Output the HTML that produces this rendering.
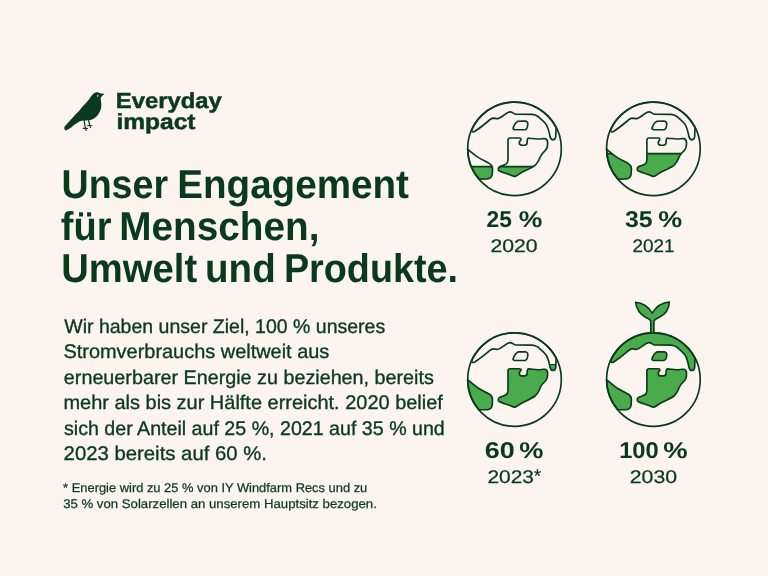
<!DOCTYPE html>
<html lang="de">
<head>
<meta charset="utf-8">
<title>Everyday impact</title>
<style>
html,body{margin:0;padding:0;background:#FCF4EE;}
body{width:768px;height:576px;overflow:hidden;}
svg{display:block;will-change:transform;}
text{font-family:"Liberation Sans",sans-serif;fill:#0A3A1C;text-rendering:geometricPrecision;}
.b{font-weight:bold;}
</style>
</head>
<body>
<svg width="768" height="576" viewBox="0 0 768 576">
<defs><path id="north" d="M -43.0,-18.4 C -42.5,-17.2 -41.2,-16.8 -40.0,-17.3 C -36,-19.8 -30,-24.5 -25.5,-28.3 C -24,-29.6 -23,-30.7 -21.5,-30.7 C -19.5,-30.6 -18,-30 -16.5,-30.2 C -15,-30.5 -13,-31.8 -11,-33.3 C -8.5,-35.2 -6.5,-36.8 -4.5,-36.9 C -2.5,-37 -1,-35.2 1,-34.5 L 17.5,-34.4 C 20,-34.3 21.8,-33.6 23.5,-32.3 C 26.5,-29.8 30,-27 31.8,-24.2 C 33.8,-21 34.8,-16 35.6,-12 C 36.1,-10 37,-9 38.5,-9 C 40.5,-9 41.2,-10.5 41.3,-12.5 L 41.6,-21.3 A 46.8 46.8 0 0 0 -43.0,-18.4 Z"/>
<path id="island" d="M -1.4,-20.8 C -0.6,-23.3 1.4,-26.5 3.5,-27.6 L 10.8,-27.7 C 12.8,-27.6 13.5,-26 13.3,-24.3 C 13.1,-21.8 12.8,-19.5 10.5,-19.1 L 0.6,-19.0 C -0.9,-19.1 -1.7,-19.8 -1.4,-20.8 Z"/>
<path id="africa" d="M -6.5,-8.8 C -6.5,-10.1 -5.5,-10.8 -4.2,-10.8 L 4.8,-10.8 C 6.2,-10.8 6.8,-10.0 6.3,-8.9 C 5.6,-8.0 4.6,-7.3 4.8,-5.7 C 5.0,-4.2 6.2,-3.6 7.5,-3.6 L 10,-3.6 C 11.6,-3.6 12.5,-4.6 12.6,-6.1 L 12.8,-9.1 C 12.9,-10.2 13.8,-10.7 15,-10.6 C 18,-10.3 21,-9.7 24,-9.8 C 26.5,-9.9 28.5,-10.4 30.5,-10.2 C 32.2,-9.9 33,-8.3 33.1,-6.5 C 33.2,-3.5 32.8,-0.5 31.2,1.2 C 29,3.2 27,5 25.8,8 C 24.5,11.5 23,14.5 20.5,16.5 C 17.5,18.8 13,20.8 8,23.2 C 4.5,25 2,27.4 0.5,27.6 C -1,27.8 -3,26.6 -5,25.8 C -9,24.4 -13,23.3 -15,22.3 C -16.5,21.5 -16.6,19.3 -15.2,18.2 C -13.5,17 -10.5,16.5 -8.5,15.3 C -7,14.4 -6.5,13 -6.5,11 Z"/>
<path id="samerica" d="M -46.8,0.3 C -43,3.5 -39.5,6.5 -36,8.8 C -32,11.2 -28,13 -25,14.8 C -23,16 -22,17.5 -22,20 L -22.2,25 C -22.4,28 -24.5,30 -27.5,30.2 L -35.4,30.3 A 46.8 46.8 0 0 1 -46.8,0.3 Z"/>
<g id="land"><use href="#north"/><use href="#island"/><use href="#africa"/><use href="#samerica"/></g>
<clipPath id="landclip"><use href="#north"/><use href="#island"/><use href="#africa"/><use href="#samerica"/></clipPath>
<clipPath id="lv0"><rect x="-60" y="17.8" width="120" height="42.2"/></clipPath>
<clipPath id="lv1"><rect x="-60" y="4.8" width="120" height="55.2"/></clipPath>
<clipPath id="lv2"><rect x="-60" y="-15.0" width="120" height="75.0"/></clipPath></defs>
<path fill="#0A3A1C" d="M104.30,94.00 C104.00,93.70 101.83,93.67 101.00,93.50 C100.17,93.33 99.87,93.20 99.30,93.00 C98.73,92.80 98.22,92.40 97.60,92.30 C96.98,92.20 96.28,92.20 95.60,92.40 C94.92,92.60 94.10,93.02 93.50,93.50 C92.90,93.98 92.67,94.43 92.00,95.30 C91.33,96.17 90.35,97.60 89.50,98.70 C88.65,99.80 87.90,100.75 86.90,101.90 C85.90,103.05 84.58,104.38 83.50,105.60 C82.42,106.82 81.57,107.87 80.40,109.20 C79.23,110.53 77.87,112.10 76.50,113.60 C75.13,115.10 73.53,116.77 72.20,118.20 C70.87,119.63 69.62,120.97 68.50,122.20 C67.38,123.43 66.20,124.72 65.50,125.60 C64.80,126.48 64.45,126.83 64.30,127.50 C64.15,128.17 64.28,129.12 64.60,129.60 C64.92,130.08 65.63,130.40 66.20,130.40 C66.77,130.40 67.33,129.98 68.00,129.60 C68.67,129.22 69.47,128.63 70.20,128.10 C70.93,127.57 71.60,127.03 72.40,126.40 C73.20,125.77 74.08,124.97 75.00,124.30 C75.92,123.63 76.93,122.93 77.90,122.40 C78.87,121.87 79.83,121.40 80.80,121.10 C81.77,120.80 82.75,120.72 83.70,120.60 C84.65,120.48 85.58,120.48 86.50,120.40 C87.42,120.32 88.32,120.27 89.20,120.10 C90.08,119.93 90.95,119.72 91.80,119.40 C92.65,119.08 93.52,118.68 94.30,118.20 C95.08,117.72 95.83,117.17 96.50,116.50 C97.17,115.83 97.75,115.02 98.30,114.20 C98.85,113.38 99.38,112.47 99.80,111.60 C100.22,110.73 100.55,109.87 100.80,109.00 C101.05,108.13 101.22,107.27 101.30,106.40 C101.38,105.53 101.35,104.65 101.30,103.80 C101.25,102.95 101.10,102.07 101.00,101.30 C100.90,100.53 100.72,99.82 100.70,99.20 C100.68,98.58 100.73,98.07 100.90,97.60 C101.07,97.13 101.38,96.78 101.70,96.40 C102.02,96.02 102.37,95.70 102.80,95.30 C103.23,94.90 104.60,94.30 104.30,94.00 Z"/>
<circle cx="97.7" cy="95.9" r="0.8" fill="#CFE3D0"/>
<g stroke="#0A3A1C" stroke-width="1.2" fill="none" stroke-linecap="round">
<path d="M84.1,120 L85.3,128 M83.2,128.4 L87.3,128.4 M85.3,128 L86.1,130.4"/>
<path d="M88.5,120 L89.8,125.5 M87.7,125.7 L91.8,125.5 M89.8,125.5 L90.6,127.6"/>
</g>
<text class="b" x="115.87" y="108.4" font-size="21.9" textLength="105.82" lengthAdjust="spacingAndGlyphs" stroke="#0A3A1C" stroke-width="0.5">Everyday</text>
<text class="b" x="116.40" y="129.3" font-size="21.9" textLength="79.10" lengthAdjust="spacingAndGlyphs" stroke="#0A3A1C" stroke-width="0.5">impact</text>
<text class="b" x="61.49" y="197.9" font-size="40.2" textLength="106.59" lengthAdjust="spacingAndGlyphs">Unser</text>
<text class="b" x="177.23" y="197.9" font-size="40.2" textLength="231.72" lengthAdjust="spacingAndGlyphs">Engagement</text>
<text class="b" x="60.76" y="239.9" font-size="40.2" textLength="50.68" lengthAdjust="spacingAndGlyphs">für</text>
<text class="b" x="119.23" y="239.9" font-size="40.2" textLength="200.20" lengthAdjust="spacingAndGlyphs">Menschen,</text>
<text class="b" x="61.20" y="281.9" font-size="40.2" textLength="135.99" lengthAdjust="spacingAndGlyphs">Umwelt</text>
<text class="b" x="205.00" y="281.9" font-size="40.2" textLength="70.70" lengthAdjust="spacingAndGlyphs">und</text>
<text class="b" x="283.95" y="281.9" font-size="40.2" textLength="174.09" lengthAdjust="spacingAndGlyphs">Produkte.</text>
<text x="64.28" y="332.6" font-size="19.7" textLength="320.95" lengthAdjust="spacingAndGlyphs" stroke="#0A3A1C" stroke-width="0.35">Wir haben unser Ziel, 100 % unseres</text>
<text x="63.47" y="358.1" font-size="19.7" textLength="265.85" lengthAdjust="spacingAndGlyphs" stroke="#0A3A1C" stroke-width="0.35">Stromverbrauchs weltweit aus</text>
<text x="63.85" y="383.8" font-size="19.7" textLength="370.01" lengthAdjust="spacingAndGlyphs" stroke="#0A3A1C" stroke-width="0.35">erneuerbarer Energie zu beziehen, bereits</text>
<text x="63.46" y="409.3" font-size="19.7" textLength="379.43" lengthAdjust="spacingAndGlyphs" stroke="#0A3A1C" stroke-width="0.35">mehr als bis zur Hälfte erreicht. 2020 belief</text>
<text x="63.99" y="434.8" font-size="19.7" textLength="380.80" lengthAdjust="spacingAndGlyphs" stroke="#0A3A1C" stroke-width="0.35">sich der Anteil auf 25 %, 2021 auf 35 % und</text>
<text x="63.60" y="460.3" font-size="19.7" textLength="203.36" lengthAdjust="spacingAndGlyphs" stroke="#0A3A1C" stroke-width="0.35">2023 bereits auf 60 %.</text>
<text x="63.13" y="491.9" font-size="12.6" textLength="304.15" lengthAdjust="spacingAndGlyphs" stroke="#0A3A1C" stroke-width="0.25">* Energie wird zu 25 % von IY Windfarm Recs und zu</text>
<text x="63.17" y="508.1" font-size="12.6" textLength="313.68" lengthAdjust="spacingAndGlyphs" stroke="#0A3A1C" stroke-width="0.25">35 % von Solarzellen an unserem Hauptsitz bezogen.</text>
<text class="b" x="486.48" y="227.1" font-size="22.8" textLength="25.33" lengthAdjust="spacingAndGlyphs">25</text>
<text class="b" x="518.68" y="227.1" font-size="22.8" textLength="23.58" lengthAdjust="spacingAndGlyphs">%</text>
<text class="b" x="625.06" y="227.1" font-size="22.8" textLength="27.66" lengthAdjust="spacingAndGlyphs">35</text>
<text class="b" x="658.15" y="227.1" font-size="22.8" textLength="23.93" lengthAdjust="spacingAndGlyphs">%</text>
<text class="b" x="484.89" y="457.9" font-size="22.8" textLength="29.95" lengthAdjust="spacingAndGlyphs">60</text>
<text class="b" x="519.37" y="457.9" font-size="22.8" textLength="24.21" lengthAdjust="spacingAndGlyphs">%</text>
<text class="b" x="619.21" y="457.9" font-size="22.8" textLength="39.50" lengthAdjust="spacingAndGlyphs">100</text>
<text class="b" x="663.36" y="457.9" font-size="22.8" textLength="24.38" lengthAdjust="spacingAndGlyphs">%</text>
<text x="490.41" y="252.4" font-size="18.2" textLength="47.23" lengthAdjust="spacingAndGlyphs" stroke="#0A3A1C" stroke-width="0.25">2020</text>
<text x="632.45" y="252.4" font-size="18.2" textLength="41.97" lengthAdjust="spacingAndGlyphs" stroke="#0A3A1C" stroke-width="0.25">2021</text>
<text x="487.45" y="482.9" font-size="18.2" textLength="46.58" lengthAdjust="spacingAndGlyphs" stroke="#0A3A1C" stroke-width="0.25">2023</text>
<text x="533.67" y="481.8" font-size="18.2" textLength="7.34" lengthAdjust="spacingAndGlyphs" stroke="#0A3A1C" stroke-width="0.25">*</text>
<text x="629.77" y="482.9" font-size="18.2" textLength="47.27" lengthAdjust="spacingAndGlyphs" stroke="#0A3A1C" stroke-width="0.25">2030</text>
<g transform="translate(514.5,148.8)">
<g clip-path="url(#lv0)"><use href="#land" fill="#4AAB4C"/></g>
<g clip-path="url(#landclip)"><line x1="-50" x2="50" y1="17.8" y2="17.8" stroke="#0A3A1C" stroke-width="1.7"/></g>
<use href="#land" fill="none" stroke="#0A3A1C" stroke-width="1.65" stroke-linejoin="round"/>
<circle r="46.8" fill="none" stroke="#0A3A1C" stroke-width="1.65"/>
</g>
<g transform="translate(653.4,148.8)">
<g clip-path="url(#lv1)"><use href="#land" fill="#4AAB4C"/></g>
<g clip-path="url(#landclip)"><line x1="-50" x2="50" y1="4.8" y2="4.8" stroke="#0A3A1C" stroke-width="1.7"/></g>
<use href="#land" fill="none" stroke="#0A3A1C" stroke-width="1.65" stroke-linejoin="round"/>
<circle r="46.8" fill="none" stroke="#0A3A1C" stroke-width="1.65"/>
</g>
<g transform="translate(514.5,379.5)">
<g clip-path="url(#lv2)"><use href="#land" fill="#4AAB4C"/></g>
<g clip-path="url(#landclip)"><line x1="-50" x2="50" y1="-15.0" y2="-15.0" stroke="#0A3A1C" stroke-width="1.2"/></g>
<use href="#land" fill="none" stroke="#0A3A1C" stroke-width="1.65" stroke-linejoin="round"/>
<circle r="46.8" fill="none" stroke="#0A3A1C" stroke-width="1.65"/>
</g>
<g transform="translate(653.4,379.5)">
<use href="#land" fill="#4AAB4C"/>
<use href="#land" fill="none" stroke="#0A3A1C" stroke-width="1.65" stroke-linejoin="round"/>
<circle r="46.8" fill="none" stroke="#0A3A1C" stroke-width="1.65"/>
<path fill="#4AAB4C" stroke="#0A3A1C" stroke-width="1.65" stroke-linejoin="round" d="M -2.6,-46.5 L -2.6,-58.3 C -2.9,-60 -5,-61 -8,-62.3 C -13,-65 -16.8,-70 -17.8,-77.3 C -11,-77 -4.5,-72.5 -1.2,-66.3 C 2.5,-72.5 8.5,-77 16,-77.5 C 15.5,-70 11.5,-65 6,-62.3 C 3,-61 0.8,-60 0.5,-58.3 L 0.5,-46.5 Z"/>
</g>
</svg>
</body>
</html>
